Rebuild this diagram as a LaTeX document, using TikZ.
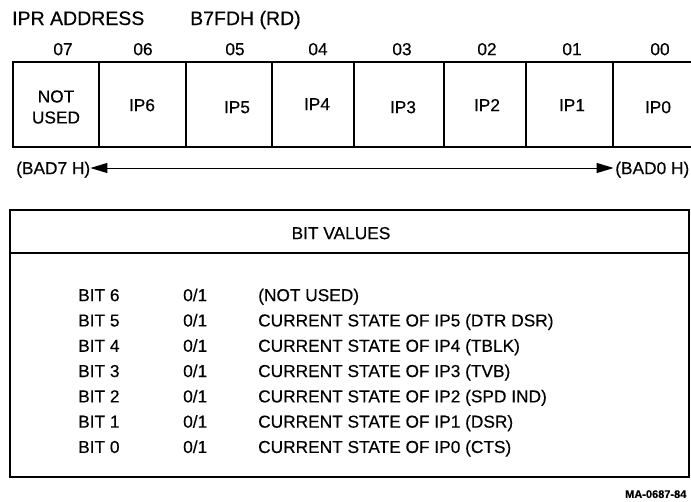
\documentclass[tikz,border=0pt]{standalone}
\usepackage{fontspec}
\setmainfont{Liberation Sans}
\newfontfamily\prt[FakeBold=0.35]{Liberation Sans}
\usetikzlibrary{arrows.meta}
\tikzset{
  txt/.style={inner sep=0pt, font=\prt\fontsize{17.3}{19}\selectfont, text height=12.3pt, text depth=0pt},
  ttl/.style={inner sep=0pt, font=\prt\fontsize{19.5}{21}\selectfont, text height=14pt, text depth=0pt, anchor=west},
  row/.style={txt, anchor=west},
  cell/.style={draw, line width=1.3pt},
  frame/.style={draw, line width=2pt},
  small/.style={inner sep=0pt, font=\prt\bfseries\fontsize{11}{13}\selectfont, text height=7.9pt, text depth=0pt, anchor=west},
}
\begin{document}
\begin{tikzpicture}[x=1pt,y=-1pt]
\useasboundingbox (0,0) rectangle (691,501);
\clip (0,0) rectangle (691,501);
% title
\node[ttl] (t1) at (12,18) {IPR ADDRESS};
\node[ttl] (t2) at (190,18) {B7FDH (RD)};
% bit numbers
\foreach \n/\x in {07/63,06/143,05/235,04/318,03/402,02/487,01/572,00/660}
  \node[txt] (n\n) at (\x,49) {\n};
% register cells
\foreach \a/\b in {13/99,99/186,186/272,272/354,354/444,444/526,526/613,613/700}
  \draw[cell] (\a,62) rectangle (\b,147);
\draw[frame] (13,62) rectangle (700,147);
\node[txt, align=center, text height=, text depth=] (c7) at (56,107) {NOT\\[2pt]USED};
\foreach \t/\x/\y in {6/142/105,5/237/107,4/317/104,3/403/107,2/487/105,1/572/105,0/658/107}
  \node[txt] (c\t) at (\x,\y) {IP\t};
% address arrow
\node[row] (l) at (16,168) {(BAD7 H)};
\node[txt, anchor=east] (r) at (689.5,168) {(BAD0 H)};
\draw[line width=1pt, {Triangle[length=17pt,width=10pt]}-{Triangle[length=17pt,width=10pt]}] (l.east) -- ([xshift=-1.5pt]r.west);
% bit values table
\draw[frame] (10,210) rectangle (689,477);
\coordinate (hl) at (10,253);
\coordinate (hr) at (689,253);
\draw[line width=1.6pt] (hl) -- (hr);
\node[txt] (bv) at (341,233) {BIT VALUES};
\foreach \b/\d [count=\i from 0] in {6/(NOT USED),5/CURRENT STATE OF IP5 (DTR DSR),4/CURRENT STATE OF IP4 (TBLK),3/CURRENT STATE OF IP3 (TVB),2/CURRENT STATE OF IP2 (SPD IND),1/CURRENT STATE OF IP1 (DSR),0/CURRENT STATE OF IP0 (CTS)}{
  \node[row] (b\b) at (78,295+25.3*\i) {BIT \b};
  \node[row] (v\b) at (183,295+25.3*\i) {0/1};
  \node[row] (d\b) at (258,295+25.3*\i) {\d};
}
\node[small] (ma) at (625,494) {MA-0687-84};
\end{tikzpicture}
\end{document}
